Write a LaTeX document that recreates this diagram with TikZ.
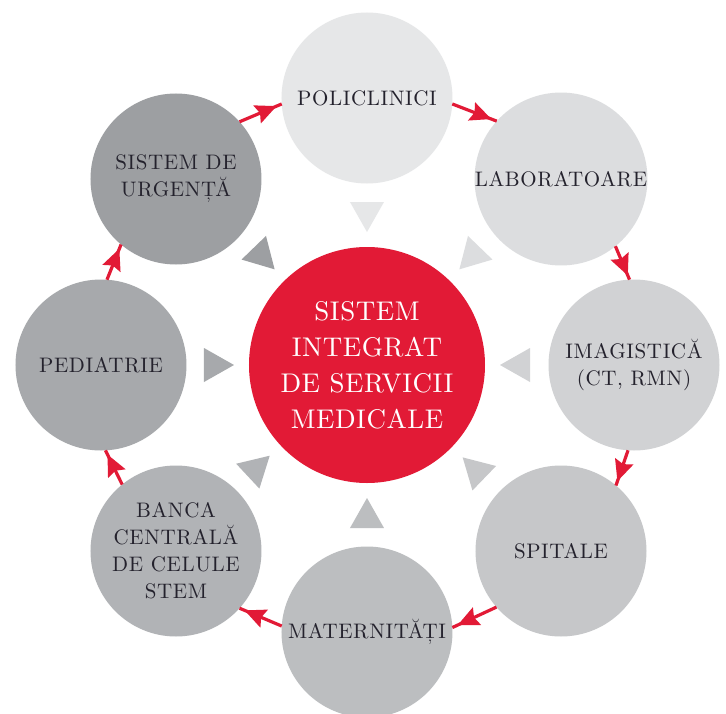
\documentclass[tikz,border=0pt]{standalone}
\usepackage{fontspec}
\usetikzlibrary{arrows.meta,decorations.markings}
\definecolor{cred}{HTML}{E21A36}
\definecolor{cpol}{HTML}{E6E7E8}
\definecolor{clab}{HTML}{DCDDDF}
\definecolor{cimg}{HTML}{D1D2D4}
\definecolor{cspi}{HTML}{C6C7C9}
\definecolor{cmat}{HTML}{BCBEC0}
\definecolor{cban}{HTML}{B1B3B6}
\definecolor{cped}{HTML}{A7A9AC}
\definecolor{curg}{HTML}{9D9FA2}
\definecolor{ctxt}{HTML}{24222D}
\newfontfamily\satfam{lmroman10-regular}[Extension=.otf, LetterSpace=3]
\newfontfamily\hubfam{lmroman10-regular}[Extension=.otf, LetterSpace=2]
\newcommand\satfont{\satfam\fontsize{21pt}{27pt}\selectfont}
\newcommand\hubfont{\hubfam\fontsize{27pt}{36pt}\selectfont}
\begin{document}
\begin{tikzpicture}[x=1pt,y=1pt,
  sat/.style={circle, fill=#1, minimum size=171pt, inner sep=0pt, outer sep=0pt,
    align=center, text=ctxt, font=\satfont},
  hub/.style={circle, fill=cred, minimum size=236pt, inner sep=0pt, outer sep=0pt,
    align=center, text=white, font=\hubfont},
  flow/.style={draw=cred, line width=3.2pt, postaction={decorate},
    decoration={markings, mark=at position 0.88 with
      {\arrow[cred]{Stealth[length=21pt,width=19pt,inset=3pt]}}}}]
\fill[white] (-367,-348) rectangle (359,365);
\useasboundingbox (-367,-348) rectangle (359,365);

\foreach \a/\c in {90/cpol, 46/clab, 0/cimg, -44/cspi, -90/cmat, -137/cban, 180/cped, 134/curg}
  \fill[\c, rotate=\a] (133,0) -- (163,17) -- (163,-17) -- cycle;

\node[hub] (hub) at (0,0) {SISTEM\\INTEGRAT\\DE SERVICII\\MEDICALE};
\node[sat=cpol] (pol) at (0,267) {POLICLINICI};
\node[sat=clab] (lab) at (194,186) {LABORATOARE};
\node[sat=cimg] (img) at (267,0) {IMAGISTICĂ\\(CT, RMN)};
\node[sat=cspi] (spi) at (194,-186) {SPITALE};
\node[sat=cmat] (mat) at (0,-267) {MATERNITĂȚI};
\node[sat=cban] (ban) at (-191,-186) {BANCA\\CENTRALĂ\\DE CELULE\\STEM};
\node[sat=cped] (ped) at (-266,0) {PEDIATRIE};
\node[sat=curg] (urg) at (-191,186) {SISTEM DE\\URGENȚĂ};

\draw[flow] (urg.42.1) -- (pol.184);
\draw[flow] (pol.356.25) -- (lab.138.3);
\draw[flow] (lab.309.5) -- (img.93.75);
\draw[flow] (img.266.25) -- (spi.50.5);
\draw[flow] (spi.221.7) -- (mat.3.75);
\draw[flow] (mat.176.25) -- (ban.318.3);
\draw[flow] (ban.129.5) -- (ped.273.75);
\draw[flow] (ped.86.25) -- (urg.230.5);
\end{tikzpicture}
\end{document}
